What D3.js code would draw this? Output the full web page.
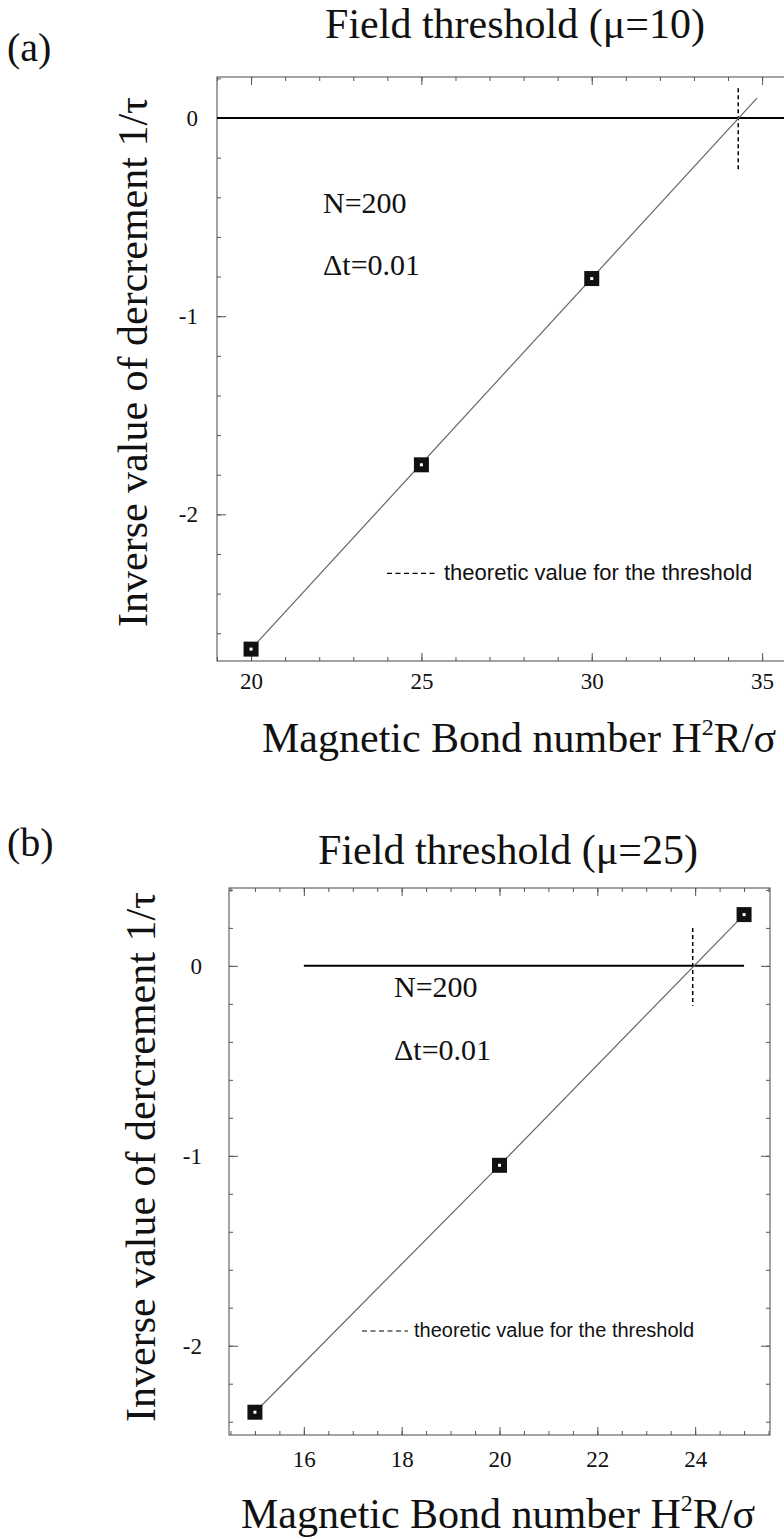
<!DOCTYPE html>
<html>
<head>
<meta charset="utf-8">
<script src="https://cdn.jsdelivr.net/npm/d3@7"></script>
<style>
  body { margin: 0; background: #fff; }
  svg { display: block; }
  text { font-family: "Liberation Serif", "Times New Roman", serif; fill: #111; }
  .sans { font-family: "Liberation Sans", Arial, sans-serif; }
</style>
</head>
<body>
<div id="chart"></div>
<script>
//-- panel (a): mu = 10
const aBond = [20, 25, 30];
const aRate = [-2.68, -1.75, -0.81];
const aFitBond = [20, 34.85];
const aFitRate = [-2.68, 0.1];
const aThreshold = 34.3;
const aXTicks = [20, 25, 30, 35];
const aYTicks = [0, -1, -2];

//-- panel (b): mu = 25
const bBond = [15, 20, 25];
const bRate = [-2.35, -1.05, 0.27];
const bThreshold = 23.95;
const bXTicks = [16, 18, 20, 22, 24];
const bYTicks = [0, -1, -2];

const width = 784, height = 1539;
const svg = d3.select("#chart").append("svg")
  .attr("width", width).attr("height", height);

function drawPanel(p) {
  const x = d3.scaleLinear().domain(p.xDomain).range([p.left, p.right]);
  const y = d3.scaleLinear().domain(p.yDomain).range([p.top, p.bottom]);
  const g = svg.append("g");

  //-- frame
  g.append("rect")
    .attr("x", p.left).attr("y", p.top)
    .attr("width", p.right - p.left).attr("height", p.bottom - p.top)
    .attr("fill", "none").attr("stroke", "#666").attr("stroke-width", 1.2);

  const clean = (sel) => { sel.select(".domain").remove(); sel.selectAll("line").attr("stroke", "#555"); };

  //-- minor ticks (inward)
  const minorX = (ax) => ax.tickValues(p.xMinor).tickFormat("").tickSizeOuter(0);
  const minorY = (ax) => ax.tickValues(p.yMinor).tickFormat("").tickSizeOuter(0);
  g.append("g").attr("transform", `translate(0,${p.bottom})`)
    .call(minorX(d3.axisBottom(x)).tickSizeInner(-4)).call(clean);
  g.append("g").attr("transform", `translate(0,${p.top})`)
    .call(minorX(d3.axisTop(x)).tickSizeInner(-4)).call(clean);
  g.append("g").attr("transform", `translate(${p.left},0)`)
    .call(minorY(d3.axisLeft(y)).tickSizeInner(-4)).call(clean);
  if (p.rightAxis) {
    g.append("g").attr("transform", `translate(${p.right},0)`)
      .call(minorY(d3.axisRight(y)).tickSizeInner(-4)).call(clean);
  }

  //-- major ticks with labels
  const xAxis = g.append("g").attr("transform", `translate(0,${p.bottom})`)
    .call(d3.axisBottom(x).tickValues(p.xTicks).tickSizeInner(-8).tickSizeOuter(0)
      .tickPadding(p.xPad).tickFormat(d3.format("d")))
    .call(clean);
  xAxis.selectAll("text").attr("font-size", 23).attr("fill", "#111")
    .attr("font-family", "Liberation Serif, serif");
  g.append("g").attr("transform", `translate(0,${p.top})`)
    .call(d3.axisTop(x).tickValues(p.xTicks).tickSizeInner(-8).tickSizeOuter(0).tickFormat(""))
    .call(clean);
  const yAxis = g.append("g").attr("transform", `translate(${p.left},0)`)
    .call(d3.axisLeft(y).tickValues(p.yTicks).tickSizeInner(-9).tickSizeOuter(0)
      .tickPadding(p.yPad).tickFormat(d3.format("d")))
    .call(clean);
  yAxis.selectAll("text").attr("font-size", 23).attr("fill", "#111")
    .attr("font-family", "Liberation Serif, serif")
    .text((d) => (d < 0 ? "-" + Math.abs(d) : d));
  if (p.rightAxis) {
    g.append("g").attr("transform", `translate(${p.right},0)`)
      .call(d3.axisRight(y).tickValues(p.yTicks).tickSizeInner(-9).tickSizeOuter(0).tickFormat(""))
      .call(clean);
  }

  //-- zero line
  g.append("line")
    .attr("x1", x(p.zeroFrom)).attr("x2", x(p.zeroTo))
    .attr("y1", y(0)).attr("y2", y(0))
    .attr("stroke", "#000").attr("stroke-width", 2);

  //-- threshold (dashed)
  g.append("line")
    .attr("x1", x(p.threshold)).attr("x2", x(p.threshold))
    .attr("y1", y(p.dashTop)).attr("y2", y(p.dashBottom))
    .attr("stroke", "#000").attr("stroke-width", 1.5).attr("stroke-dasharray", "4,3");

  //-- data line
  const line = d3.line().x((d) => x(d[0])).y((d) => y(d[1]));
  g.append("path")
    .datum(d3.zip(p.lineX, p.lineY))
    .attr("d", line)
    .attr("fill", "none").attr("stroke", "#666").attr("stroke-width", 1.2);

  //-- square markers
  const pts = d3.zip(p.px, p.py);
  g.selectAll(".pt").data(pts).join("rect")
    .attr("x", (d) => x(d[0]) - 7.5).attr("y", (d) => y(d[1]) - 7.5)
    .attr("width", 15).attr("height", 15).attr("fill", "#111");
  g.selectAll(".dot").data(pts).join("rect")
    .attr("x", (d) => x(d[0]) - 1.5).attr("y", (d) => y(d[1]) - 1.5)
    .attr("width", 3).attr("height", 3).attr("fill", "#fff");

  //-- texts
  svg.append("text").attr("x", 7).attr("y", p.letterY)
    .attr("font-size", 40).text(p.letter);
  svg.append("text").attr("x", p.titleX).attr("y", p.titleY)
    .attr("text-anchor", "middle").attr("font-size", 42).text(p.title);

  svg.append("text").attr("x", p.noteX).attr("y", p.noteY)
    .attr("font-size", 30).text("N=200");
  svg.append("text").attr("x", p.noteX).attr("y", p.noteY + p.noteGap)
    .attr("font-size", 30).text("Δt=0.01");

  g.append("line")
    .attr("x1", p.legX).attr("x2", p.legX + p.legDash)
    .attr("y1", p.legY - p.legFont * 0.3).attr("y2", p.legY - p.legFont * 0.3)
    .attr("stroke", "#000").attr("stroke-width", 1.2).attr("stroke-dasharray", "5,3.5");
  g.append("text").attr("class", "sans")
    .attr("x", p.legX + p.legDash + 6).attr("y", p.legY)
    .attr("font-size", p.legFont).text("theoretic value for the threshold");

  const xl = svg.append("text").attr("x", p.xLabelX).attr("y", p.xLabelY)
    .attr("font-size", 42);
  xl.append("tspan").text("Magnetic Bond number H");
  xl.append("tspan").attr("font-size", 24).attr("dy", -17).text("2");
  xl.append("tspan").attr("dy", 17).text("R/σ");

  svg.append("text")
    .attr("transform", `translate(${p.yLabelX},${p.yLabelY}) rotate(-90)`)
    .attr("text-anchor", "middle").attr("font-size", 42)
    .text("Inverse value of dercrement 1/τ");
}

drawPanel({
  letter: "(a)", letterY: 61,
  title: "Field threshold (μ=10)", titleX: 515, titleY: 38,
  left: 217, right: 820, top: 77, bottom: 661,
  xDomain: [19, 36.7], yDomain: [0.207, -2.74],
  xTicks: aXTicks, yTicks: aYTicks,
  xMinor: d3.range(19, 37, 1), yMinor: d3.range(0.2, -2.8, -0.2),
  xPad: 12, yPad: 19, rightAxis: false,
  zeroFrom: 19, zeroTo: 37,
  threshold: aThreshold, dashTop: 0.15, dashBottom: -0.27,
  lineX: aFitBond, lineY: aFitRate, px: aBond, py: aRate,
  noteX: 323, noteY: 213, noteGap: 62,
  legX: 387, legY: 580, legDash: 51, legFont: 22,
  xLabelX: 262, xLabelY: 752,
  yLabelX: 147, yLabelY: 362
});

drawPanel({
  letter: "(b)", letterY: 856,
  title: "Field threshold (μ=25)", titleX: 508, titleY: 864,
  left: 229, right: 770, top: 888, bottom: 1435,
  xDomain: [14.47, 25.53], yDomain: [0.41, -2.47],
  xTicks: bXTicks, yTicks: bYTicks,
  xMinor: d3.range(14.5, 25.6, 0.5), yMinor: d3.range(0.4, -2.5, -0.2),
  xPad: 16, yPad: 27, rightAxis: true,
  zeroFrom: 16, zeroTo: 25,
  threshold: bThreshold, dashTop: 0.2, dashBottom: -0.21,
  lineX: bBond, lineY: bRate, px: bBond, py: bRate,
  noteX: 394, noteY: 997, noteGap: 63,
  legX: 362, legY: 1337, legDash: 46, legFont: 20,
  xLabelX: 241, xLabelY: 1528,
  yLabelX: 155, yLabelY: 1157
});
</script>
</body>
</html>
